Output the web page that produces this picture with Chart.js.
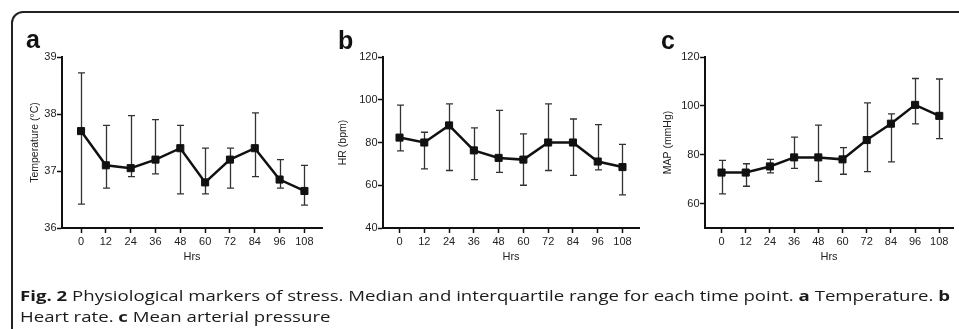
<!DOCTYPE html>
<html>
<head>
<meta charset="utf-8">
<script src="https://cdn.jsdelivr.net/npm/chart.js@4"></script>
<style>
  body { margin: 0; background: #fff; width: 959px; height: 329px; overflow: hidden; position: relative; }
  #frame { position: absolute; left: 11px; top: 11px; width: 1000px; height: 400px;
           border: 2px solid #222; border-radius: 12px; box-sizing: border-box; }
  canvas { position: absolute; top: 0; }
  .lbl { position: absolute; font: bold 25px "Liberation Sans", Arial, sans-serif; line-height: 25px; color: #111; }
  #cap { position: absolute; left: 20px; top: 285px; font-family: "Open Sans", sans-serif; font-size: 14px;
         line-height: 21px; color: #1a1a1a; white-space: nowrap; }
  .ln { display: inline-block; transform-origin: 0 0; }
</style>
</head>
<body>
<div id="frame"></div>
<canvas id="chartA" width="330" height="329" style="left:0px"></canvas>
<canvas id="chartB" width="315" height="329" style="left:330px"></canvas>
<canvas id="chartC" width="314" height="329" style="left:645px"></canvas>
<div class="lbl" style="left:26px; top:27px">a</div>
<div class="lbl" style="left:338px; top:28px">b</div>
<div class="lbl" style="left:661px; top:28px">c</div>
<div id="cap">
  <div class="ln" id="l1"><b>Fig. 2</b> Physiological markers of stress. Median and interquartile range for each time point. <b>a</b> Temperature. <b>b</b></div><br>
  <div class="ln" id="l2">Heart rate. <b>c</b> Mean arterial pressure</div>
</div>
<script>
// time points (hours)
const hrs = [0, 12, 24, 36, 48, 60, 72, 84, 96, 108];

// a - temperature, median and IQR
const tempMed = [37.7, 37.1, 37.05, 37.2, 37.4, 36.8, 37.2, 37.4, 36.85, 36.65];
const tempHi = [38.72, 37.8, 37.97, 37.9, 37.8, 37.4, 37.4, 38.02, 37.2, 37.1];
const tempLo = [36.42, 36.7, 36.9, 36.95, 36.6, 36.6, 36.7, 36.9, 36.7, 36.4];
const tempTicks = [36, 37, 38, 39];

// b - heart rate
const hrMed = [82.3, 80, 88, 76.3, 72.8, 72, 80, 80, 71.1, 68.5];
const hrHi = [97.5, 84.8, 98.1, 86.8, 95, 84, 98.1, 91, 88.4, 79.1];
const hrLo = [76.1, 67.7, 66.9, 62.6, 66, 60, 66.9, 64.6, 67.2, 55.5];
const hrTicks = [40, 60, 80, 100, 120];

// c - mean arterial pressure
const mapMed = [72.7, 72.7, 75.2, 78.9, 78.9, 78.1, 86, 92.7, 100.4, 95.9];
const mapHi = [77.7, 76.3, 78.1, 87.2, 92.1, 82.9, 101.2, 96.7, 111.2, 111];
const mapLo = [64, 67.1, 72.6, 74.4, 69.1, 72, 73.1, 77.1, 92.6, 86.6];
const mapTicks = [60, 80, 100, 120];

Chart.defaults.font.family = '"Liberation Sans", Arial, sans-serif';
Chart.defaults.font.size = 11;
Chart.defaults.color = '#222';

// draws the IQR whiskers under the line
const errorBars = {
  id: 'errorBars',
  beforeDatasetsDraw(chart, args, opts) {
    const ctx = chart.ctx;
    const x = chart.scales.x, y = chart.scales.y;
    ctx.save();
    ctx.strokeStyle = '#333';
    ctx.lineWidth = 1.3;
    opts.lo.forEach((lo, i) => {
      const px = Math.round(x.getPixelForValue(hrs[i])) + 0.5;
      const top = y.getPixelForValue(opts.hi[i]);
      const bot = y.getPixelForValue(lo);
      ctx.beginPath();
      ctx.moveTo(px, top); ctx.lineTo(px, bot);
      ctx.moveTo(px - 3.5, top); ctx.lineTo(px + 3.5, top);
      ctx.moveTo(px - 3.5, bot); ctx.lineTo(px + 3.5, bot);
      ctx.stroke();
    });
    ctx.restore();
  }
};

function makeChart(id, med, lo, hi, ticks, yMin, yMax, xMin, xMax, yTitle, yWidth, titleOff, padRight) {
  const pts = hrs.map((h, i) => ({x: h, y: med[i]}));
  return new Chart(document.getElementById(id), {
    type: 'line',
    data: {
      datasets: [{
        data: pts,
        borderColor: '#111',
        borderWidth: 2.5,
        tension: 0,
        pointStyle: 'rect',
        pointRadius: 5,
        pointBackgroundColor: '#111',
        pointBorderColor: '#111',
        pointBorderWidth: 1
      }]
    },
    options: {
      responsive: false,
      animation: false,
      devicePixelRatio: 1,
      layout: { padding: { top: 57, bottom: 60, left: 0, right: padRight } },
      plugins: {
        legend: { display: false },
        tooltip: { enabled: false },
        errorBars: { lo: lo, hi: hi }
      },
      scales: {
        x: {
          type: 'linear', min: xMin, max: xMax,
          afterBuildTicks: s => { s.ticks = hrs.map(v => ({value: v})); },
          afterFit: s => { s.height = 41; },
          grid: { drawOnChartArea: false, tickLength: 5, tickColor: '#111', tickWidth: 1.5 },
          border: { color: '#111', width: 2 },
          ticks: { padding: 2, maxRotation: 0 },
          title: { display: true, text: 'Hrs', padding: { top: 0, bottom: 5.4 }, font: { size: 11 } }
        },
        y: {
          min: yMin, max: yMax,
          afterBuildTicks: s => { s.ticks = ticks.map(v => ({value: v})); },
          afterFit: s => { s.width = yWidth; },
          grid: { drawOnChartArea: false, tickLength: 5, tickColor: '#111', tickWidth: 1.5 },
          border: { color: '#111', width: 2 },
          ticks: { padding: 0.5 },
          title: { display: true, text: yTitle, padding: { top: titleOff - 6.6, bottom: 0 }, font: { size: 10.5 } }
        }
      }
    },
    plugins: [errorBars]
  });
}

makeChart('chartA', tempMed, tempLo, tempHi, tempTicks, 36, 39, -9.2, 116.5, 'Temperature (°C)', 62, 35, 8);
makeChart('chartB', hrMed, hrLo, hrHi, hrTicks, 40, 120, -8, 116, 'HR (bpm)', 53, 13, 6);
makeChart('chartC', mapMed, mapLo, mapHi, mapTicks, 50, 120, -8.2, 114.8, 'MAP (mmHg)', 60, 23, 0);

// squeeze caption to the width it has in the figure
const l1 = document.getElementById('l1');
const l2 = document.getElementById('l2');
const k = 930 / l1.getBoundingClientRect().width;
l1.style.transform = 'scaleX(' + k + ')';
l2.style.transform = 'scaleX(' + k + ')';
</script>
</body>
</html>
